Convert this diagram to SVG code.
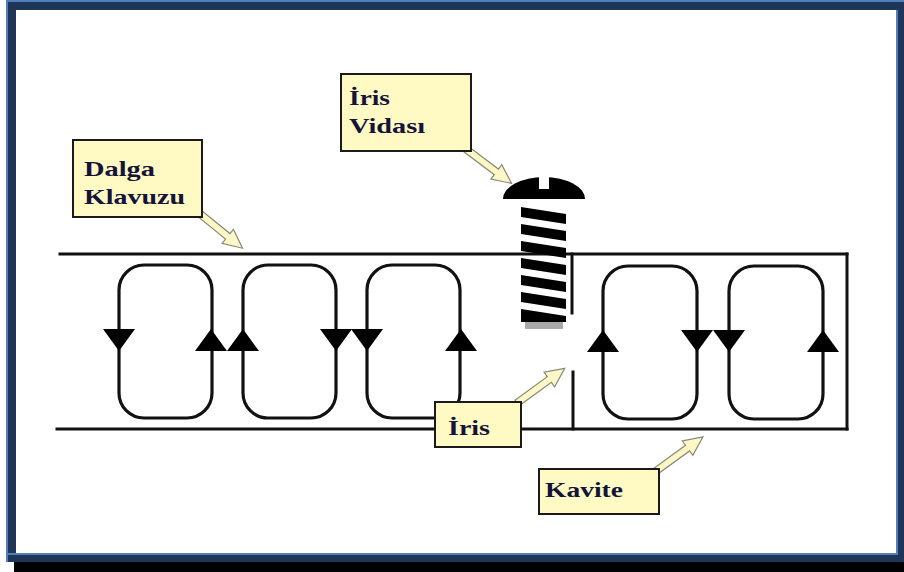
<svg xmlns="http://www.w3.org/2000/svg" xmlns:xlink="http://www.w3.org/1999/xlink" width="904" height="572" viewBox="0 0 904 572">
  <style>
    .wall { stroke: #111; stroke-width: 3; fill: none; stroke-linecap: square; }
    .loop { stroke: #111; stroke-width: 3.2; fill: none; }
    .tri { fill: #000; }
    .box { fill: #fff9c4; stroke: #1a1a1a; stroke-width: 2; }
    .ptr { fill: #fdf8c6; stroke: #8a8a7a; stroke-width: 1.2; stroke-linejoin: miter; }
    .lbl { font-family: "Liberation Serif", "Times New Roman", serif; font-weight: bold; font-size: 22px; fill: #14143a; }
  </style>
  <defs>
    <!-- field-direction arrowheads, centred on the loop side -->
    <polygon id="down" class="tri" points="-16,-11 16,-11 0,11"/>
    <polygon id="up" class="tri" points="-16,11 16,11 0,-11"/>
  </defs>

  <!-- picture frame with drop shadow -->
  <g id="frame">
    <rect x="14" y="562" width="890" height="10" fill="#000"/>
    <rect x="6" y="0" width="898" height="562" fill="#1f3658"/>
    <rect x="6" y="0" width="898" height="2" fill="#4f81bd"/>
    <rect x="6" y="0" width="2" height="562" fill="#4f81bd"/>
    <rect x="16" y="10" width="880" height="543" fill="#fff"/>
    <rect x="896" y="10" width="2" height="545" fill="#4f81bd"/>
    <rect x="8" y="553" width="890" height="2" fill="#4f81bd"/>
  </g>

  <!-- waveguide walls and cavity end -->
  <g id="waveguide">
    <line class="wall" x1="60" y1="254" x2="847" y2="254"/>
    <line class="wall" x1="57" y1="429" x2="847" y2="429"/>
    <line class="wall" x1="847" y1="254" x2="847" y2="429"/>
  </g>

  <!-- iris plates -->
  <g id="iris">
    <line class="wall" x1="572" y1="254" x2="572" y2="313"/>
    <line class="wall" x1="573" y1="372" x2="573" y2="429"/>
  </g>

  <!-- field loops in the guide -->
  <g id="loop1">
    <rect class="loop" x="119" y="265" width="93" height="153" rx="25"/>
    <use xlink:href="#down" x="119" y="340"/>
    <use xlink:href="#up" x="211" y="340"/>
  </g>
  <g id="loop2">
    <rect class="loop" x="243" y="265" width="93" height="153" rx="25"/>
    <use xlink:href="#up" x="243" y="340"/>
    <use xlink:href="#down" x="336" y="340"/>
  </g>
  <g id="loop3">
    <rect class="loop" x="367" y="265" width="93" height="153" rx="25"/>
    <use xlink:href="#down" x="367" y="340"/>
    <use xlink:href="#up" x="461" y="340"/>
  </g>

  <!-- field loops in the cavity -->
  <g id="loop4">
    <rect class="loop" x="603" y="266" width="94" height="153" rx="25"/>
    <use xlink:href="#up" x="603" y="341"/>
    <use xlink:href="#down" x="697" y="341"/>
  </g>
  <g id="loop5">
    <rect class="loop" x="729" y="266" width="94" height="153" rx="25"/>
    <use xlink:href="#down" x="729" y="341"/>
    <use xlink:href="#up" x="823" y="341"/>
  </g>

  <!-- tuning screw -->
  <g id="screw">
    <path d="M503,199 A41,22 0 0 1 585,199 Z" fill="#000"/>
    <rect x="539" y="175" width="10" height="14" fill="#fff"/>
    <polygon points="521,207 566,214 566,224 521,217" fill="#000"/>
    <polygon points="521,224 566,231 566,241 521,234" fill="#000"/>
    <polygon points="521,241 566,248 566,258 521,251" fill="#000"/>
    <polygon points="521,258 566,265 566,275 521,268" fill="#000"/>
    <polygon points="521,275 566,282 566,292 521,285" fill="#000"/>
    <polygon points="521,292 566,299 566,309 521,302" fill="#000"/>
    <polygon points="521,309 566,316 566,322 521,322" fill="#000"/>
    <rect x="525" y="322" width="38" height="7" fill="#a9a9a9"/>
  </g>

  <!-- callout pointers -->
  <g id="connectors">
    <polygon class="ptr" transform="translate(199,213) rotate(39)" points="0,-3.5 37,-3.5 37,-9 56,0 37,9 37,3.5 0,3.5"/>
    <polygon class="ptr" transform="translate(466,149) rotate(37)" points="0,-3.5 38,-3.5 38,-9 57,0 38,9 38,3.5 0,3.5"/>
    <polygon class="ptr" transform="translate(517,403) rotate(-36)" points="0,-3.5 40,-3.5 40,-9 59,0 40,9 40,3.5 0,3.5"/>
    <polygon class="ptr" transform="translate(656,471) rotate(-36)" points="0,-3.5 39,-3.5 39,-9 58,0 39,9 39,3.5 0,3.5"/>
  </g>

  <!-- callout boxes -->
  <g id="label-screw">
    <rect class="box" x="341" y="74" width="130" height="77"/>
    <text class="lbl" x="349" y="105" textLength="41" lengthAdjust="spacingAndGlyphs">İris</text>
    <text class="lbl" x="349" y="133" textLength="76" lengthAdjust="spacingAndGlyphs">Vidası</text>
  </g>
  <g id="label-guide">
    <rect class="box" x="73" y="140" width="129" height="77"/>
    <text class="lbl" x="84" y="176" textLength="71" lengthAdjust="spacingAndGlyphs">Dalga</text>
    <text class="lbl" x="84" y="204" textLength="101" lengthAdjust="spacingAndGlyphs">Klavuzu</text>
  </g>
  <g id="label-iris">
    <rect class="box" x="435" y="402" width="86" height="45"/>
    <text class="lbl" x="448" y="435" textLength="42" lengthAdjust="spacingAndGlyphs">İris</text>
  </g>
  <g id="label-cavity">
    <rect class="box" x="539" y="469" width="120" height="45"/>
    <text class="lbl" x="545" y="497" textLength="78" lengthAdjust="spacingAndGlyphs">Kavite</text>
  </g>
</svg>
